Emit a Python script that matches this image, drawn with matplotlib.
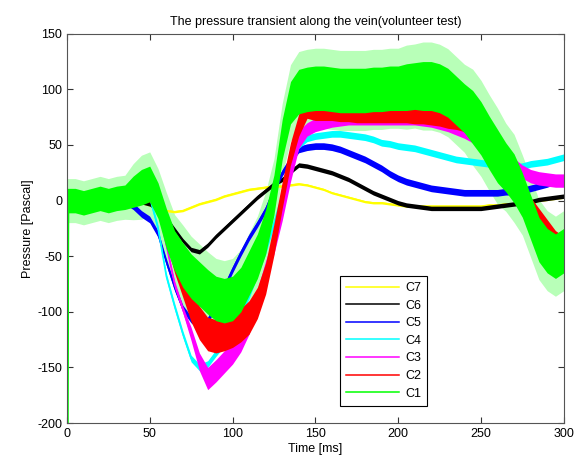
import numpy as np
import matplotlib
matplotlib.use("Agg")
import matplotlib.pyplot as plt

plt.rcParams['font.family'] = ['Liberation Sans', 'DejaVu Sans']
plt.rcParams['axes.unicode_minus'] = False

# time grid (ms), every 5 ms
time_ms = np.arange(0, 301, 5)

# onset spike of C1 at t=0 (runs off the scale)
c1_onset_ms = [0.0, 0.4, 1.0]
c1_onset_pa = [160, -210, 0]

# mean pressure [Pa]
c7 = [0, 0, 0, 0, 0, 0, 0, 0, 0, -2, -4, -7, -9, -10, -9, -6, -3, -1, 1, 4,
      6, 8, 10, 11, 12, 13, 13, 14, 15, 14, 12, 10, 7, 5, 3, 1, -1, -2, -2, -3,
      -4, -5, -5, -5, -5, -5, -5, -5, -5, -5, -5, -4, -4, -3, -3, -2, -1, 0, 1, 2, 3]
c6 = [0, 0, 0, 0, 0, 0, 0, 0, 0, -1, -3, -8, -16, -26, -36, -44, -46, -40, -32, -25,
      -18, -11, -4, 3, 9, 15, 19, 26, 32, 31, 29, 27, 25, 22, 19, 15, 11, 7, 4, 1,
      -2, -4, -5, -6, -7, -7, -7, -7, -7, -7, -7, -6, -5, -4, -3, -2, -1, 1, 2, 3, 4]
c5 = [0, 0, 0, 0, 0, 0, 0, 0, -5, -12, -17, -30, -55, -78, -97, -107, -113, -108, -93, -78,
      -62, -47, -33, -21, -8, 10, 25, 37, 46, 48, 49, 49, 48, 46, 43, 40, 37, 33, 29, 24,
      20, 17, 15, 13, 11, 10, 9, 8, 7, 7, 7, 7, 7, 8, 8, 9, 11, 13, 15, 18, 20]
c4 = [0, 0, 0, 0, 0, 0, 0, 0, 0, 2, 3, -25, -68, -95, -120, -142, -150, -147, -137, -128,
      -115, -100, -85, -65, -45, -20, 5, 30, 50, 56, 58, 59, 60, 60, 59, 58, 57, 55, 52, 51,
      49, 48, 47, 45, 43, 41, 39, 37, 36, 35, 34, 33, 32, 31, 30, 31, 33, 34, 35, 37, 39]
c3 = [0, 0, 0, 0, 0, 0, 0, 0, 0, 0, 3, -5, -40, -75, -98, -120, -145, -160, -153, -145,
      -137, -128, -112, -88, -62, -40, -10, 25, 55, 64, 68, 70, 72, 73, 74, 74, 74, 74, 74, 74,
      74, 74, 74, 73, 72, 70, 68, 65, 62, 58, 54, 48, 42, 37, 32, 26, 22, 20, 19, 18, 18]
c2 = [0, 0, 0, 0, 0, 0, 0, 0, 0, 0, 2, -5, -30, -55, -75, -95, -110, -120, -122, -120,
      -117, -112, -105, -92, -70, -35, 5, 42, 68, 82, 80, 80, 80, 79, 79, 78, 78, 78, 78, 78,
      78, 78, 77, 77, 76, 75, 73, 72, 70, 67, 64, 55, 45, 32, 20, 10, -5, -15, -25, -35, -40]
c1 = [0, 0, -2, 0, 2, 0, 2, 3, 8, 12, 15, 0, -25, -45, -58, -68, -75, -82, -88, -90,
      -88, -80, -65, -50, -28, 5, 55, 88, 98, 100, 101, 101, 100, 99, 99, 99, 99, 100, 100, 101,
      101, 102, 103, 103, 103, 101, 97, 90, 83, 75, 65, 52, 40, 30, 20, 5, -15, -35, -45, -50, -45]

# noise half-width of each trace [Pa]
c3_noise = [3] * 15 + [6, 8, 10, 10, 10, 10, 8, 8, 8, 8, 8, 8, 8, 8] + [6] * 32
c2_noise = [3] * 12 + [8, 10, 12, 14, 15, 15, 15, 15, 15, 15, 15, 14, 14, 14, 12, 10, 10] + [8] * 32
c1_noise = ([11] * 8 + [14, 16, 16, 16, 18, 18, 20, 20, 20, 20, 20, 20, 20, 20, 20, 20, 20, 18, 18,
            19, 20, 20, 20, 20, 20, 20, 20, 20, 20, 20, 20, 20, 20, 21, 21, 22, 22, 22,
            22, 22, 22, 24, 24, 24, 24, 22, 22, 20, 20, 20, 20, 20, 20])
c1_spikes = [x * 1.8 for x in c1_noise]
thin_noise = {'C7': 1.0, 'C6': 2.0, 'C5': 3.0, 'C4': 3.0}

labels = ['C7', 'C6', 'C5', 'C4', 'C3', 'C2', 'C1']
colors = ['#ffff00', '#000000', '#0000ff', '#00ffff', '#ff00ff', '#ff0000', '#00ff00']

fig = plt.figure(figsize=(5.77, 4.69), dpi=100)
ax = fig.add_axes([0.116, 0.098, 0.861, 0.830])

series = [c7, c6, c5, c4, c3, c2, c1]
noise = [thin_noise['C7'], thin_noise['C6'], thin_noise['C5'], thin_noise['C4'],
         c3_noise, c2_noise, c1_noise]

handles = []
for z, (lab, col, vals, w) in enumerate(zip(labels, colors, series, noise)):
    v = np.array(vals, dtype=float)
    w = np.array(w, dtype=float) * np.ones_like(v)
    if lab == 'C1':
        # sparse spikes around the dense band, kept behind the other traces
        sp = np.array(c1_spikes, dtype=float)
        ax.fill_between(time_ms, v - sp, v + sp, color='#b8ffb8', lw=0, zorder=0.5)
    ax.fill_between(time_ms, v - w, v + w, color=col, lw=0, zorder=z + 1)
    if lab == 'C1':
        t = np.concatenate([c1_onset_ms, time_ms[1:]])
        v = np.concatenate([c1_onset_pa, v[1:]])
    else:
        t = time_ms
    ln, = ax.plot(t, v, color=col, lw=1.1, zorder=z + 1.5, label=lab)
    handles.append(ln)

ax.set_xlim(0, 300)
ax.set_ylim(-200, 150)
ax.set_xticks(np.arange(0, 301, 50))
ax.set_yticks(np.arange(-200, 151, 50))
ax.tick_params(direction='in', length=4, labelsize=9, top=True, right=True, colors='#333333')
for lbl in ax.get_xticklabels() + ax.get_yticklabels():
    lbl.set_color('black')
for s in ax.spines.values():
    s.set_color('#555555')
    s.set_zorder(10)

ax.set_xlabel("Time [ms]", fontsize=9, labelpad=2)
ax.set_ylabel("Pressure [Pascal]", fontsize=9, labelpad=2)
ax.set_title("The pressure transient along the vein(volunteer test)", fontsize=9, pad=6)

leg = ax.legend(handles=handles, loc='lower left', bbox_to_anchor=(0.537, 0.028),
                fontsize=9, fancybox=False, edgecolor='black', framealpha=1,
                handlelength=4.2, labelspacing=0.45, borderpad=0.5, handletextpad=0.5)
leg.get_frame().set_linewidth(0.8)
leg.set_zorder(20)

fig.savefig("out.png", dpi=100)
